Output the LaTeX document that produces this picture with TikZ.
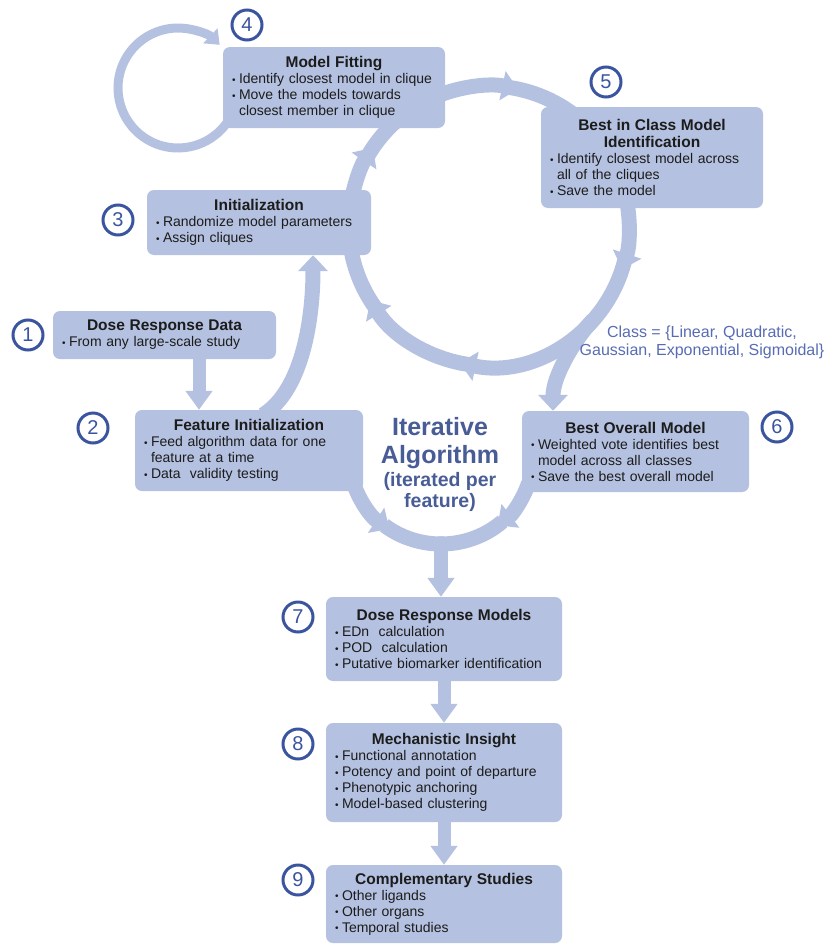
\documentclass[tikz,border=0pt]{standalone}
\usepackage{fontspec}
\setmainfont{Liberation Sans}
\usetikzlibrary{arrows.meta,calc}
\setlength{\parindent}{0pt}

\definecolor{fillc}{RGB}{180,193,224}
\definecolor{numc}{RGB}{58,84,160}
\definecolor{itc}{RGB}{72,92,150}
\definecolor{clc}{RGB}{88,108,180}
\definecolor{txtc}{RGB}{28,28,28}

\pgfdeclarelayer{background}
\pgfsetlayers{background,main}

% title line and bullet line inside a stage box
\newcommand{\boxtitle}[1]{{\centering\fontsize{15.5}{17}\selectfont\bfseries #1\par}}
\newcommand{\bitem}[1]{{\hangindent=7pt\hangafter=1\noindent\makebox[7pt][l]{\raisebox{0.5pt}{\fontsize{10}{10}\selectfont\textbullet}}#1\par}}

\tikzset{
  stage/.style 2 args={fill=fillc, rounded corners=7pt, inner xsep=9pt, inner ysep=0pt,
    text width=#1, minimum height=#2, align=left, text=txtc, font=\fontsize{14}{16}\selectfont},
  num/.style={circle, draw=numc, line width=3pt, minimum size=30pt, inner sep=0pt,
    text=numc, font=\fontsize{20}{20}\selectfont},
  band/.style={draw=fillc, line width=15pt, -{Triangle[length=16pt,width=29pt]}},
  plainband/.style={draw=fillc, line width=15pt},
  loopband/.style={draw=fillc, line width=9pt, -{Triangle[length=13pt,width=20pt]}},
  shaft/.style={draw=fillc, line width=13pt, -{Triangle[length=19pt,width=26pt]}},
}

\begin{document}
\begin{tikzpicture}[x=1pt, y=1pt]
\useasboundingbox (0,0) rectangle (826,-945);

% stage boxes
\node[stage={204pt}{81pt}] (b4) at (334,-87.5) {\boxtitle{Model Fitting}\bitem{Identify closest model in clique}\bitem{Move the models towards\newline closest member in clique}};
\node[stage={204pt}{101pt}] (b5) at (652,-157.5) {\boxtitle{Best in Class Model\\Identification}\bitem{Identify closest model across\newline all of the cliques}\bitem{Save the model}};
\node[stage={206pt}{65pt}] (b3) at (259,-222.5) {\boxtitle{Initialization}\bitem{Randomize model parameters}\bitem{Assign cliques}};
\node[stage={205pt}{48pt}] (b1) at (164.5,-335) {\boxtitle{Dose Response Data}\bitem{From any large-scale study}};
\node[stage={210pt}{81pt}] (b2) at (249,-450.5) {\boxtitle{Feature Initialization}\bitem{Feed algorithm data for one\newline feature at a time}\bitem{Data\ \ validity testing}};
\node[stage={209pt}{81pt}] (b6) at (635.5,-451.5) {\boxtitle{Best Overall Model}\bitem{Weighted vote identifies best\newline model across all classes}\bitem{Save the best overall model}};
\node[stage={218pt}{84pt}] (b7) at (444,-639) {\boxtitle{Dose Response Models}\bitem{EDn\ \ calculation}\bitem{POD\ \ calculation}\bitem{Putative biomarker identification}};
\node[stage={218pt}{99pt}] (b8) at (444,-772.5) {\boxtitle{Mechanistic Insight}\bitem{Functional annotation}\bitem{Potency and point of departure}\bitem{Phenotypic anchoring}\bitem{Model-based clustering}};
\node[stage={218pt}{78pt}] (b9) at (444,-904) {\boxtitle{Complementary Studies}\bitem{Other ligands}\bitem{Other organs}\bitem{Temporal studies}};

% step numbers
\node[num] (n1) at (28,-335) {1};
\node[num] (n2) at (93,-428) {2};
\node[num] (n3) at (118,-220) {3};
\node[num] (n4) at (247,-25) {4};
\node[num] (n5) at (606,-82) {5};
\node[num] (n6) at (777,-427) {6};
\node[num] (n7) at (298,-617) {7};
\node[num] (n8) at (298,-744) {8};
\node[num] (n9) at (298,-880) {9};

% labels
\node[text=itc, font=\fontsize{25}{28}\selectfont\bfseries, align=center] (iter) at (440,-443) {Iterative\\Algorithm};
\node[text=itc, font=\fontsize{19.5}{21}\selectfont\bfseries, align=center] (iterp) at (440,-492) {(iterated per\\feature)};
\node[text=clc, font=\fontsize{16}{18}\selectfont, align=center] (cls) at (702,-342) {Class = \{Linear, Quadratic,\\Gaussian, Exponential, Sigmoidal\}};

\begin{pgfonlayer}{background}
  % main fitting loop
  \coordinate (C) at (489,-226);
  \draw[band] ($(C)+(112:140pt)$) arc[start angle=112, end angle=78, radius=140pt];
  \draw[plainband] ($(C)+(84:140pt)$) arc[start angle=84, end angle=45, radius=140pt];
  \draw[band] ($(C)+(12:140pt)$) arc[start angle=12, end angle=-18, radius=140pt];
  \draw[band] ($(C)+(-14:140pt)$) arc[start angle=-14, end angle=-102, radius=140pt];
  \draw[band] ($(C)+(-98:140pt)$) arc[start angle=-98, end angle=-148, radius=140pt];
  \draw[plainband] ($(C)+(-144:140pt)$) arc[start angle=-144, end angle=-175, radius=140pt];
  \draw[band] ($(C)+(172:140pt)$) arc[start angle=172, end angle=146, radius=140pt];
  \draw[plainband] ($(C)+(150:140pt)$) arc[start angle=150, end angle=118, radius=140pt];

  % branch to the best overall model
  \coordinate (b6in) at ([xshift=-82.5pt]b6.north);
  \draw[band] ($(C)+(-42:140pt)$) .. controls +(-20,-22) and +(0,34) .. (b6in);

  % self loop on model fitting
  \coordinate (L) at (178,-88);
  \draw[loopband] ($(L)+(-33:60pt)$) arc[start angle=-33, end angle=-314, radius=60pt];

  % feature initialization to initialization
  \draw[band] ([xshift=14pt,yshift=-5pt]b2.north) .. controls +(40,25) and +(0,-62) .. ([xshift=54pt]b3.south);

  % lower collecting arcs
  \coordinate (E) at (441,-456);
  \draw[band] ($(E)+(195:92pt and 88pt)$) arc[start angle=195, end angle=236, x radius=92pt, y radius=88pt];
  \draw[plainband] ($(E)+(232:92pt and 88pt)$) arc[start angle=232, end angle=272, x radius=92pt, y radius=88pt];
  \draw[band] ($(E)+(342:92pt and 88pt)$) arc[start angle=342, end angle=308, x radius=92pt, y radius=88pt];
  \draw[plainband] ($(E)+(312:92pt and 88pt)$) arc[start angle=312, end angle=268, x radius=92pt, y radius=88pt];
  \coordinate (lb) at ($(E)+(270:92pt and 88pt)$);
  \draw[shaft, line width=14pt] ([yshift=7pt]lb) -- (lb |- b7.north);

  % straight steps
  \draw[shaft] ([xshift=34.5pt]b1.south) -- ([xshift=34.5pt]b1.south |- b2.north);
  \draw[shaft] (b7.south) -- (b8.north);
  \draw[shaft] (b8.south) -- (b9.north);
\end{pgfonlayer}
\end{tikzpicture}
\end{document}
